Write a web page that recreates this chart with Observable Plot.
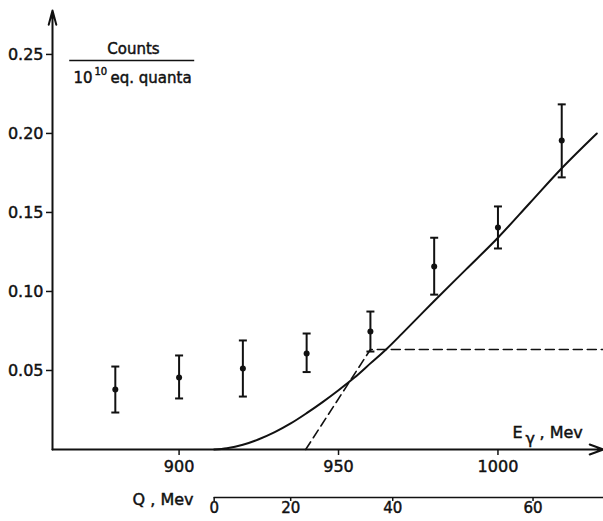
<!DOCTYPE html>
<html>
<head>
<meta charset="utf-8">
<script src="https://cdn.jsdelivr.net/npm/d3@7"></script>
<script src="https://cdn.jsdelivr.net/npm/@observablehq/plot@0.6"></script>
<style>
  html, body { margin: 0; padding: 0; background: #fff; }
  svg { display: block; }
  svg text { stroke: #111; stroke-width: 0.45px; }
</style>
</head>
<body>
<div id="chart"></div>
<script>
// Measured points (photon energy, yield) with error bars
const energy = [880, 900, 920, 940, 960, 980, 1000, 1020];
const counts = [0.038, 0.0456, 0.0513, 0.0608, 0.0747, 0.1158, 0.1405, 0.1956];
const errLow = [0.0234, 0.0323, 0.0335, 0.0490, 0.0620, 0.0980, 0.1272, 0.1722];
const errHigh = [0.0525, 0.0595, 0.0690, 0.0734, 0.0873, 0.1340, 0.1538, 0.2184];

// Solid theoretical curve
const curveE = [911, 915, 920, 925, 930, 935, 940, 945, 950, 955, 960, 965, 970, 980, 990, 1000, 1010, 1020, 1031];
const curveY = [0, 0.0008, 0.003, 0.0065, 0.011, 0.0165, 0.023, 0.030, 0.0375, 0.0455, 0.0545, 0.0635, 0.0735, 0.094, 0.114, 0.134, 0.156, 0.178, 0.200];

// Dashed step curve
const dashE = [939.7, 960, 1033];
const dashY = [0, 0.0633, 0.0633];

// Axes
const xTicks = [900, 950, 1000];
const yTicks = [0.05, 0.10, 0.15, 0.20, 0.25];
const yTickLabels = ["0.05", "0.10", "0.15", "0.20", "0.25"];
const qTickLabels = ["0", "20", "40", "60"];
const qTickEnergy = [911, 935, 967, 1011];

const xDomain = [860.3, 1033.1];
const yDomain = [0, 0.2778];

const points = energy.map((e, i) => ({e, y: counts[i], lo: errLow[i], hi: errHigh[i]}));
const curve = curveE.map((e, i) => ({e, y: curveY[i]}));
const dashed = dashE.map((e, i) => ({e, y: dashY[i]}));
const yLabel = new Map(yTicks.map((t, i) => [t, yTickLabels[i]]));
const qLabel = new Map(qTickEnergy.map((t, i) => [t, qTickLabels[i]]));

const capSymbol = {
  draw(ctx, size) {
    const w = Math.sqrt(size / Math.PI);
    ctx.moveTo(-w, 0);
    ctx.lineTo(w, 0);
  }
};

const ink = "#111";
const font = "DejaVu Sans, sans-serif";

const chart = Plot.plot({
  width: 603,
  height: 521,
  marginLeft: 52,
  marginRight: 0,
  marginTop: 10,
  marginBottom: 72,
  style: {fontFamily: font, fontSize: "16px", color: ink, background: "#fff"},
  x: {domain: xDomain},
  y: {domain: yDomain},
  marks: [
    // axis lines with arrows
    Plot.arrow([0], {x1: xDomain[0], x2: xDomain[1], y1: 0, y2: 0, stroke: ink, strokeWidth: 2, headLength: 11, headAngle: 40}),
    Plot.arrow([0], {x1: xDomain[0], x2: xDomain[0], y1: 0, y2: yDomain[1], stroke: ink, strokeWidth: 2, headLength: 11, headAngle: 30}),
    Plot.axisX({ticks: xTicks, tickFormat: d => String(d), tickSize: 6, tickPadding: 5, label: null, stroke: ink, strokeWidth: 1.5, fill: ink, fontSize: 16}),
    Plot.axisY({ticks: yTicks, tickFormat: d => yLabel.get(d), tickSize: 6, tickPadding: 3, label: null, stroke: ink, strokeWidth: 1.5, fill: ink, fontSize: 16}),
    // secondary Q axis
    Plot.ruleY([0], {x1: qTickEnergy[0], x2: xDomain[1], dy: 48, stroke: ink, strokeWidth: 1.5}),
    Plot.axisX(qTickEnergy, {tickFormat: d => qLabel.get(d), tickSize: 4, tickPadding: 1, dy: 48, label: null, stroke: ink, strokeWidth: 1.5, fill: ink, fontSize: 15}),
    Plot.text(["Q , Mev"], {frameAnchor: "bottom-left", dx: 141, dy: 55, textAnchor: "end", fill: ink, fontSize: 16}),
    // E_gamma label
    Plot.text(["E"], {frameAnchor: "bottom-right", dx: -91, dy: -12, textAnchor: "start", fill: ink, fontSize: 16}),
    Plot.text(["γ"], {frameAnchor: "bottom-right", dx: -78, dy: -6, textAnchor: "start", fill: ink, fontSize: 16}),
    Plot.text([", Mev"], {frameAnchor: "bottom-right", dx: -64, dy: -12, textAnchor: "start", fill: ink, fontSize: 16}),
    // units legend (fraction)
    Plot.text(["Counts"], {frameAnchor: "top-left", dx: 81, dy: 33, textAnchor: "middle", fill: ink, fontSize: 15}),
    Plot.ruleY([0.2462], {x1: 865.7, x2: 904.9, stroke: ink, strokeWidth: 1.5}),
    Plot.text(["10"], {frameAnchor: "top-left", dx: 21, dy: 62, textAnchor: "start", fill: ink, fontSize: 15}),
    Plot.text(["10"], {frameAnchor: "top-left", dx: 42, dy: 57, textAnchor: "start", fill: ink, fontSize: 10}),
    Plot.text(["eq. quanta"], {frameAnchor: "top-left", dx: 58, dy: 62, textAnchor: "start", fill: ink, fontSize: 15}),
    // curves
    Plot.line(dashed, {x: "e", y: "y", stroke: ink, strokeWidth: 1.6, strokeDasharray: "9,5"}),
    Plot.line(curve, {x: "e", y: "y", stroke: ink, strokeWidth: 2, curve: "catmull-rom"}),
    // error bars and points
    Plot.ruleX(points, {x: "e", y1: "lo", y2: "hi", stroke: ink, strokeWidth: 2}),
    Plot.dot(points, {x: "e", y: "lo", symbol: capSymbol, r: 4, stroke: ink, fill: "none", strokeWidth: 2}),
    Plot.dot(points, {x: "e", y: "hi", symbol: capSymbol, r: 4, stroke: ink, fill: "none", strokeWidth: 2}),
    Plot.dot(points, {x: "e", y: "y", r: 3, fill: ink, stroke: "none"})
  ]
});

document.getElementById("chart").appendChild(chart);
</script>
</body>
</html>
